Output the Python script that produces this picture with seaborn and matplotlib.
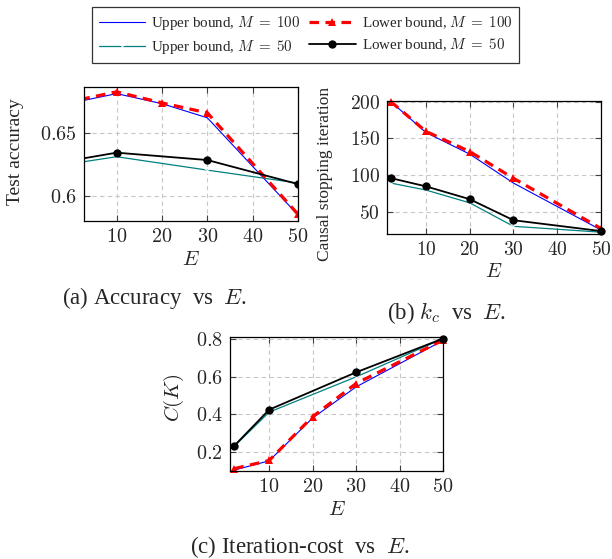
import pandas as pd
import seaborn as sns
import matplotlib.pyplot as plt

# (a) test accuracy vs E
acc_E_up100 = [2, 10, 20, 30, 50]
acc_up100 = [0.6747, 0.6806, 0.6727, 0.6616, 0.5852]
acc_E_low100 = [2, 10, 20, 30, 50]
acc_low100 = [0.6760, 0.6820, 0.6733, 0.6655, 0.5858]
acc_E_up50 = [2, 10, 30, 50]
acc_up50 = [0.6267, 0.6310, 0.6205, 0.6103]
acc_E_low50 = [2, 10, 30, 50]
acc_low50 = [0.6293, 0.6342, 0.6284, 0.6095]

# (b) causal stopping iteration vs E
kc_E = [2, 10, 20, 30, 50]
kc_up100 = [200, 158, 128.5, 89, 25]
kc_low100 = [200, 159.5, 132, 95.5, 27]
kc_up50 = [89, 79.5, 62, 30, 22]
kc_low50 = [95.7, 84.5, 67, 38.3, 23.5]

# (c) iteration cost vs E
cost_E_up100 = [2, 10, 20, 30, 50]
cost_up100 = [0.107, 0.155, 0.381, 0.545, 0.79]
cost_E_low100 = [2, 10, 20, 30, 50]
cost_low100 = [0.114, 0.157, 0.388, 0.563, 0.792]
cost_E_up50 = [2, 10, 30, 50]
cost_up50 = [0.232, 0.412, 0.598, 0.80]
cost_E_low50 = [2, 10, 30, 50]
cost_low50 = [0.235, 0.425, 0.622, 0.80]

x_ticks = [10, 20, 30, 40, 50]
a_yticks = ['0.6', '0.65']
b_yticks = ['50', '100', '150', '200']
c_yticks = ['0.2', '0.4', '0.6', '0.8']

labels = [r'Upper bound, $M\;=\;100$', r'Upper bound, $M\;=\;50$',
          r'Lower bound, $M\;=\;100$', r'Lower bound, $M\;=\;50$']

sns.set_theme(style="ticks")
plt.rcParams['font.family'] = ['serif']
plt.rcParams['font.serif'] = ['Liberation Serif', 'DejaVu Serif']
plt.rcParams['mathtext.fontset'] = 'cm'

styles = [
    dict(color='#0000ff', lw=0.8),
    dict(color='#008080', lw=0.9, marker='1', markersize=5, markeredgewidth=0.8),
    dict(color='#ff0000', lw=2.3, linestyle=(0, (3.0, 2.0)), marker='^',
         markersize=6, markeredgewidth=0),
    dict(color='black', lw=1.3, marker='o', markersize=6, markeredgewidth=0),
]


def draw_panel(ax, series, clip, yticks, fs):
    for (x, y), lab, st in zip(series, labels, styles):
        df = pd.DataFrame({'E': x, 'val': y})
        sns.lineplot(data=df, x='E', y='val', ax=ax, label=lab, clip_on=clip,
                     **st)
    ax.get_legend().remove()
    ax.set_xticks(x_ticks)
    ax.set_xticklabels([f'${t}$' for t in x_ticks])
    ax.set_yticks([float(t) for t in yticks])
    ax.set_yticklabels([f'${t}$' for t in yticks])
    ax.grid(True, color='#c8c8c8', linestyle=(0, (4, 3)), lw=0.8)
    ax.tick_params(direction='in', top=True, right=True, length=4,
                   width=0.8, color='#404040', labelsize=fs, pad=5)
    for s in ax.spines.values():
        s.set_linewidth(0.9)
        s.set_color('black')
    ax.set_xlabel('$E$', fontsize=fs + 0.5)
    ax.xaxis.label.set_verticalalignment('center')
    ax.yaxis.label.set_verticalalignment('center')


fig = plt.figure(figsize=(6.12, 5.59), dpi=100)
ax_a = fig.add_axes([84 / 612, 1 - 221 / 559, 214 / 612, 134 / 559])
ax_b = fig.add_axes([387 / 612, 1 - 234 / 559, 214 / 612, 133 / 559])
ax_c = fig.add_axes([230 / 612, 1 - 471 / 559, 213 / 612, 134 / 559])

draw_panel(ax_a, [(acc_E_up100, acc_up100), (acc_E_up50, acc_up50),
                  (acc_E_low100, acc_low100), (acc_E_low50, acc_low50)],
           True, a_yticks, 14.5)
ax_a.set_xlim(2.8, 50)
ax_a.set_ylim(0.5805, 0.6858)
ax_a.set_ylabel('Test accuracy', fontsize=14)
ax_a.yaxis.set_label_coords(-0.318, 0.52)
ax_a.xaxis.set_label_coords(0.5, -0.296)

draw_panel(ax_b, [(kc_E, kc_up100), (kc_E, kc_up50),
                  (kc_E, kc_low100), (kc_E, kc_low50)], False, b_yticks, 14)
ax_b.set_xlim(1.1, 50)
ax_b.set_ylim(19.5, 201)
ax_b.set_ylabel('Causal stopping iteration', fontsize=12.5)
ax_b.yaxis.set_label_coords(-0.29, 0.45)
ax_b.xaxis.set_label_coords(0.5, -0.291)

draw_panel(ax_c, [(cost_E_up100, cost_up100), (cost_E_up50, cost_up50),
                  (cost_E_low100, cost_low100), (cost_E_low50, cost_low50)],
           False, c_yticks, 14.5)
ax_c.set_xlim(1.0, 50)
ax_c.set_ylim(0.1016, 0.8084)
ax_c.set_ylabel('$C(K)$', fontsize=15)
ax_c.yaxis.set_label_coords(-0.263, 0.55)
ax_c.xaxis.set_label_coords(0.5, -0.296)

handles, labs = ax_a.get_legend_handles_labels()
leg = fig.legend(handles, labs, ncol=2, loc='upper left',
                 bbox_to_anchor=(92 / 612, 1 - 7 / 559), borderaxespad=0,
                 fontsize=10.8, frameon=True, fancybox=False,
                 edgecolor='black', handlelength=3.1, handletextpad=0.4,
                 columnspacing=0.6, borderpad=0.45, labelspacing=0.4)
leg.get_frame().set_linewidth(0.9)

fig.text(155 / 612, 1 - 298 / 559, r'(a) Accuracy  vs  $E$.',
         ha='center', va='center', fontsize=16.5)
fig.text(447 / 612, 1 - 313 / 559, r'(b) $k_c$  vs  $E$.', ha='center',
         va='center', fontsize=16.5)
fig.text(300 / 612, 1 - 547 / 559, r'(c) Iteration-cost  vs  $E$.',
         ha='center', va='center', fontsize=16.5)

fig.savefig('out.png', dpi=100, facecolor='white')
